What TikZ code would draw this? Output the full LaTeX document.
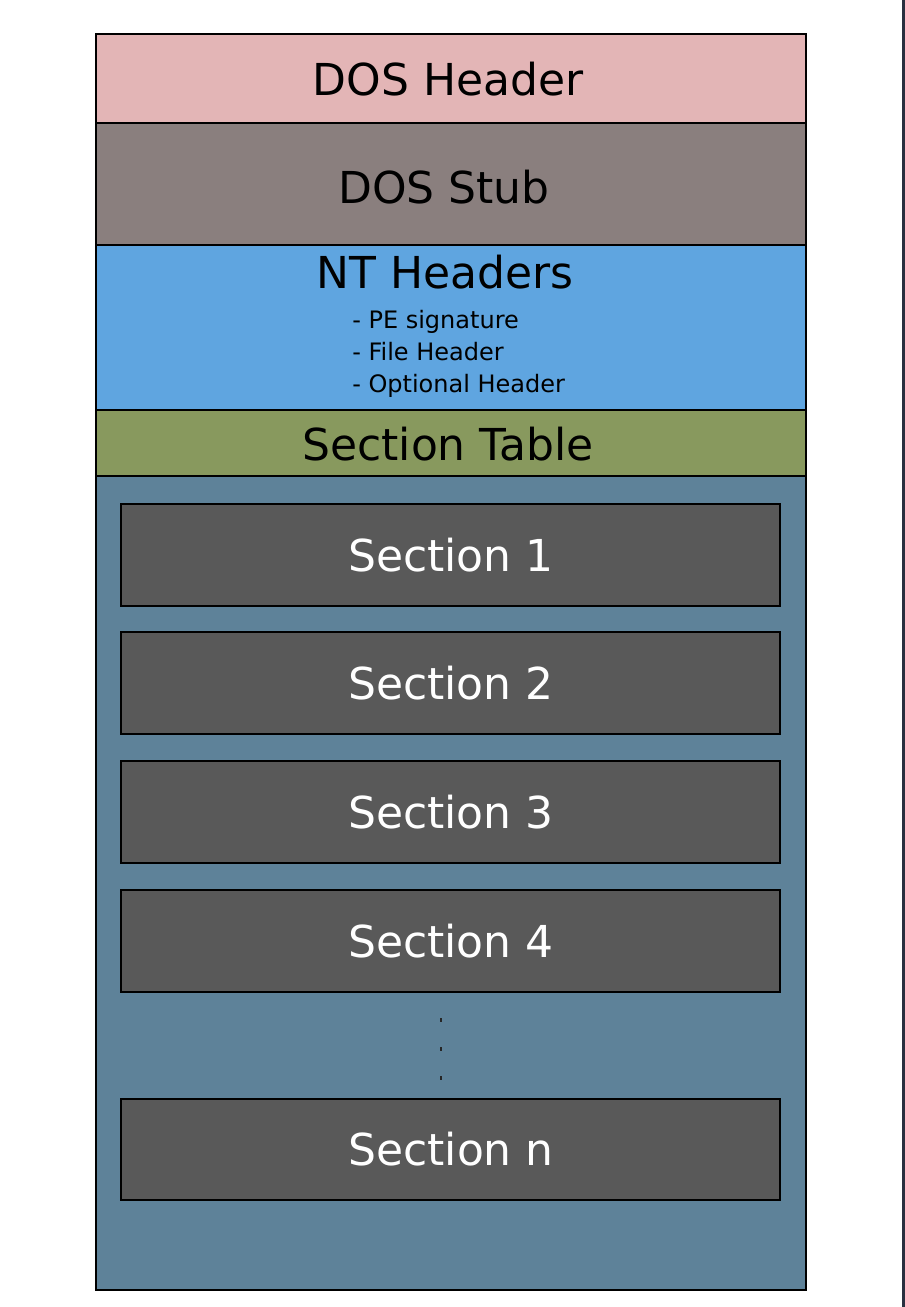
\documentclass[tikz,border=0pt]{standalone}
\usepackage{fontspec}
\setmainfont{DejaVu Sans}
\definecolor{hdrpink}{HTML}{E3B5B6}
\definecolor{stubgray}{HTML}{8A7F7E}
\definecolor{ntblue}{HTML}{5FA5E0}
\definecolor{tblgreen}{HTML}{88995E}
\definecolor{secarea}{HTML}{5E8299}
\definecolor{secbox}{HTML}{595959}
\definecolor{edgeline}{HTML}{2A3040}
\begin{document}
\begin{tikzpicture}[x=0.75pt,y=-0.75pt,
  band/.style={draw=black,line width=1.8pt},
  secrect/.style={draw=black,line width=1.8pt,fill=secbox},
  bigtxt/.style={anchor=base,inner sep=0pt,font=\fontsize{33}{40}\selectfont},
  sectxt/.style={bigtxt,text=white},
  smalltxt/.style={anchor=base west,inner sep=0pt,font=\fontsize{18}{22}\selectfont},
  dot/.style={rectangle,fill=black!85,inner sep=0pt,minimum width=2.2pt,minimum height=3pt}]
\useasboundingbox (0,0) rectangle (905,1307);
\fill[white] (0,0) rectangle (905,1307);
\fill[edgeline] (902,0) rectangle (905,1307);
% bands
\draw[band,fill=secarea] (96,476) rectangle (806,1290);
\draw[band,fill=hdrpink] (96,34) rectangle (806,123);
\draw[band,fill=stubgray] (96,123) rectangle (806,245);
\draw[band,fill=ntblue] (96,245) rectangle (806,410);
\draw[band,fill=tblgreen] (96,410) rectangle (806,476);
% band texts
\node[bigtxt] (doshdr) at (448,95) {DOS Header};
\node[bigtxt] (dosstub) at (444,203) {DOS Stub};
\node[bigtxt] (nthdr) at (445,288) {NT Headers};
\node[smalltxt] (pesig) at (352,328) {- PE signature};
\node[smalltxt] (filehdr) at (352,360) {- File Header};
\node[smalltxt] (opthdr) at (352,392) {- Optional Header};
\node[bigtxt] (sectbl) at (448,460) {Section Table};
% sections
\draw[secrect] (121,504) rectangle (780,606);
\draw[secrect] (121,632) rectangle (780,734);
\draw[secrect] (121,761) rectangle (780,863);
\draw[secrect] (121,890) rectangle (780,992);
\draw[secrect] (121,1099) rectangle (780,1200);
\node[sectxt] (s1) at (451,571) {Section 1};
\node[sectxt] (s2) at (451,699) {Section 2};
\node[sectxt] (s3) at (451,828) {Section 3};
\node[sectxt] (s4) at (451,957) {Section 4};
\node[sectxt] (sn) at (451,1165) {Section n};
\node[dot] (d1) at (441,1020) {};
\node[dot] (d2) at (441,1049) {};
\node[dot] (d3) at (441,1078) {};
\end{tikzpicture}
\end{document}
